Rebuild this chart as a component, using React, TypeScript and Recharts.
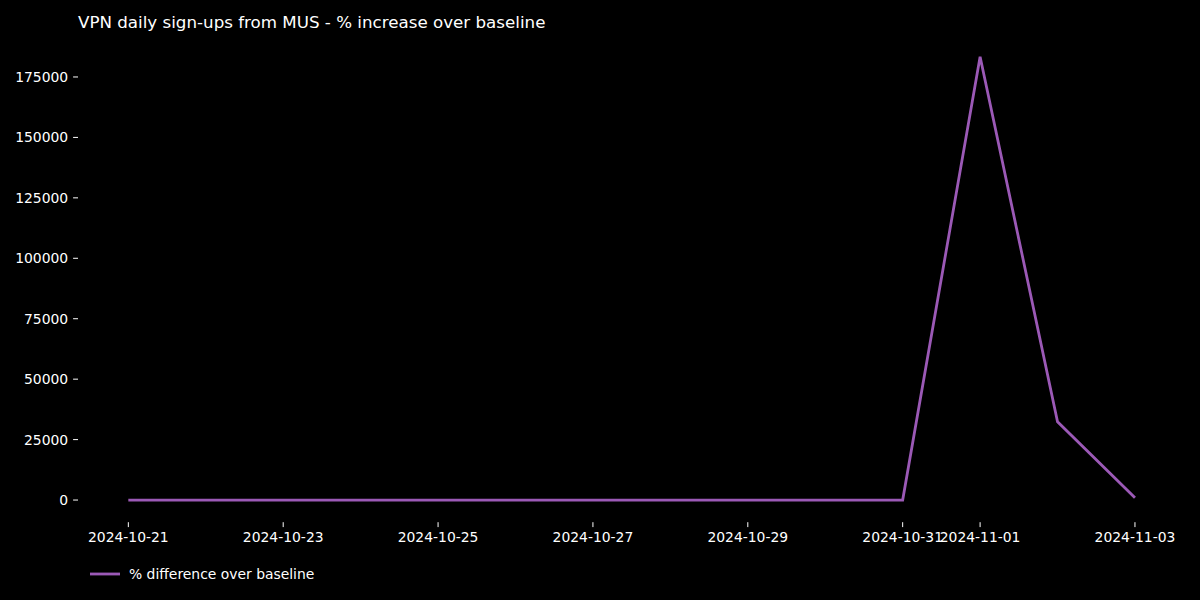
import React from "react";
import { LineChart, Line, XAxis, YAxis, Legend } from "recharts";

const dates = [
  "2024-10-21", "2024-10-22", "2024-10-23", "2024-10-24", "2024-10-25",
  "2024-10-26", "2024-10-27", "2024-10-28", "2024-10-29", "2024-10-30",
  "2024-10-31", "2024-11-01", "2024-11-02", "2024-11-03",
];
const pctDiff = [0, 0, 0, 0, 0, 0, 0, 0, 0, 0, 0, 183400, 32400, 900];
const xTickIdx = [0, 2, 4, 6, 8, 10, 11, 13];
const yTicks = [0, 25000, 50000, 75000, 100000, 125000, 150000, 175000];

const data = dates.map((d, i) => ({ idx: i, date: d, value: pctDiff[i] }));

const FONT = "DejaVu Sans, sans-serif";
const LINE_COLOR = "#9b59b6";

const renderLegend = () => (
  <div style={{ display: "flex", alignItems: "center", fontFamily: FONT, fontSize: 13.9, color: "#ffffff" }}>
    <svg width={30} height={10} style={{ marginRight: 9 }}>
      <line x1={0} y1={5} x2={30} y2={5} stroke={LINE_COLOR} strokeWidth={2.8} />
    </svg>
    <span>% difference over baseline</span>
  </div>
);

export default function App() {
  return (
    <div style={{ position: "absolute", left: 0, top: 0, width: 1200, height: 600, background: "#000000" }}>
      <div
        style={{
          position: "absolute",
          left: 78,
          top: 12,
          fontFamily: FONT,
          fontSize: 16.7,
          color: "#ffffff",
          whiteSpace: "nowrap",
        }}
      >
        VPN daily sign-ups from MUS - % increase over baseline
      </div>
      <LineChart
        width={1200}
        height={600}
        data={data}
        margin={{ top: 34.5, right: 14.7, left: 0, bottom: 17.8 }}
        style={{ position: "absolute", left: 0, top: 0 }}
      >
        <XAxis
          dataKey="idx"
          type="number"
          domain={[-0.65, 13.65]}
          ticks={xTickIdx}
          allowDataOverflow
          tickFormatter={(v: number) => dates[v] ?? ""}
          axisLine={false}
          tickLine={{ stroke: "#ffffff" }}
          tickSize={4.9}
          tickMargin={4.9}
          tick={{ fill: "#ffffff", fontFamily: FONT, fontSize: 13.9 }}
          height={40}
          interval={0}
        />
        <YAxis
          type="number"
          domain={[-9170, 192570]}
          ticks={yTicks}
          allowDataOverflow
          axisLine={false}
          tickLine={{ stroke: "#ffffff" }}
          tickSize={4.9}
          tickMargin={4.9}
          tick={{ fill: "#ffffff", fontFamily: FONT, fontSize: 13.9 }}
          width={78}
        />
        <Legend
          content={renderLegend}
          height={20}
          wrapperStyle={{ position: "absolute", left: 90, top: 566, width: 300, height: 20 }}
        />
        <Line
          type="linear"
          dataKey="value"
          stroke={LINE_COLOR}
          strokeWidth={2.8}
          dot={false}
          isAnimationActive={false}
        />
      </LineChart>
    </div>
  );
}
